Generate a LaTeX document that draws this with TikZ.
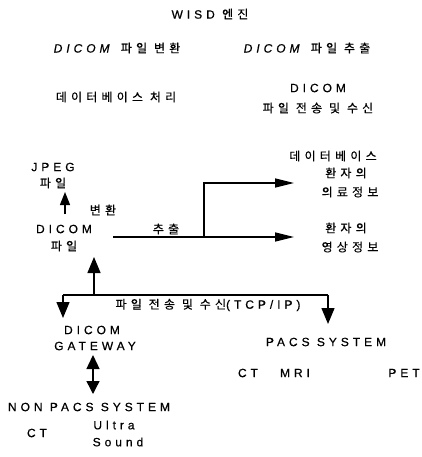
\documentclass[tikz,border=0pt]{standalone}
\usepackage{fontspec}
\setmainfont{Liberation Sans}[LetterSpace=33,FakeBold=0.6]
\newfontfamily\korfont{Noto Sans CJK KR}[LetterSpace=35,FakeBold=0.4]
\newcommand{\kor}[1]{{\korfont #1}}
\usetikzlibrary{arrows.meta}
\begin{document}
\begin{tikzpicture}[x=1pt,y=-1pt,
  txt/.style={inner sep=0pt,font=\fontsize{12}{17}\selectfont,align=center},
  ln/.style={line width=1.4pt},
  tipR/.style={-{Triangle[length=19pt,width=9pt]}},
  tipU/.style={-{Triangle[length=13pt,width=10pt]}},
  tipB/.style={-{Triangle[length=16pt,width=13pt]}},
  tipD/.style={{Triangle[length=14pt,width=13pt]}-{Triangle[length=13pt,width=13pt]}}]
\useasboundingbox (0,0) rectangle (421,457);
% top table
\node[txt] (wisd) at (210,14) {WISD \kor{엔진}};
\node[txt] (conv) at (117,48) {\textit{DICOM} \kor{파일 변환}};
\node[txt] (extr) at (307,48) {\textit{DICOM} \kor{파일 추출}};
\node[txt] (dbp) at (116,97) {\kor{데이터베이스 처리}};
\node[txt] (txrx1) at (318,88) {DICOM};
\node[txt] (txrx2) at (318,108) {\kor{파일 전송 및 수신}};
% diagram
\node[txt] (jpeg) at (53,167) {JPEG};
\node[txt] (jpeg2) at (53,183) {\kor{파일}};
\node[txt] (dicomf) at (64,229) {DICOM};
\node[txt] (dicomf2) at (64,246) {\kor{파일}};
\node[txt] (convl) at (103,210) {\kor{변환}};
\node[txt] (extrl) at (166,229) {\kor{추출}};
\node[txt] (db1) at (333,156) {\kor{데이터베이스}};
\node[txt] (db2) at (346,173) {\kor{환자의}};
\node[txt] (db3) at (350,192) {\kor{의료정보}};
\node[txt] (im1) at (346,228) {\kor{환자의}};
\node[txt] (im2) at (350,247) {\kor{영상정보}};
\node[txt] (tcp) at (208,305) {\kor{파일 전송 및 수신}(TCP/IP)};
\node[txt] (gw1) at (92,330) {DICOM};
\node[txt] (gw2) at (95,346) {GATEWAY};
\node[txt] (pacs) at (326,342) {PACS SYSTEM};
\node[txt] (ct) at (248,373) {CT};
\node[txt] (mri) at (295,373) {MRI};
\node[txt] (pet) at (404,373) {PET};
\node[txt] (nonpacs) at (89,407) {NON PACS SYSTEM};
\node[txt] (ct2) at (37,433) {CT};
\node[txt] (us1) at (114,425) {Ultra};
\node[txt] (us2) at (118,442) {Sound};
% connector coordinates
\coordinate (jpegA) at (65,214);
\coordinate (jpegB) at (65,192);
\coordinate (exS) at (113,237);
\coordinate (exJ) at (204,237);
\coordinate (exE) at (294,237);
\coordinate (exU) at (204,183);
\coordinate (exDB) at (294,183);
\coordinate (busL) at (63,295);
\coordinate (busM) at (94,295);
\coordinate (busR) at (328,295);
\coordinate (upT) at (94,257);
\coordinate (gwT) at (63,318);
\coordinate (pacsT) at (328,324);
\coordinate (dA) at (93,355);
\coordinate (dB) at (93,394);
% connectors
\draw[ln,tipU] (jpegA) -- (jpegB);
\draw[ln,tipR] (exS) -- (exE);
\draw[ln,tipR] (exJ) -- (exU) -- (exDB);
\draw[ln] (busL) -- (busR);
\draw[ln,tipB] (busM) -- (upT);
\draw[ln,tipB] (busL) -- (gwT);
\draw[ln,tipB] (busR) -- (pacsT);
\draw[ln,tipD] (dA) -- (dB);
\end{tikzpicture}
\end{document}
